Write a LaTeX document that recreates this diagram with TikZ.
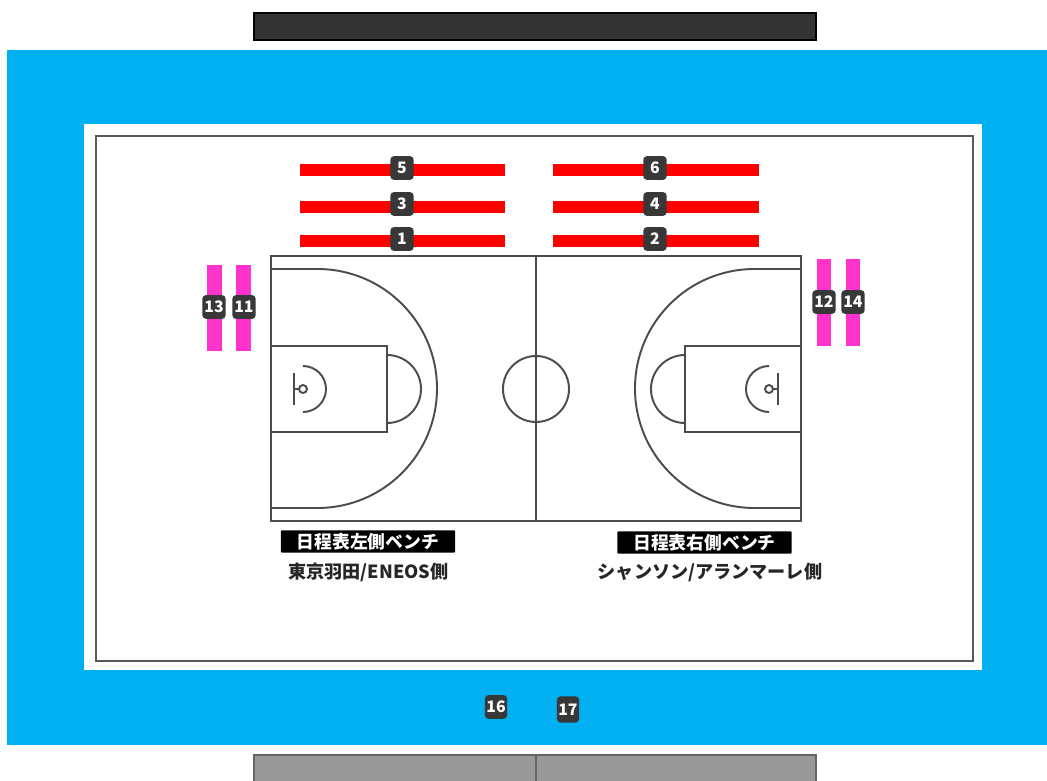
\documentclass[tikz,border=0pt]{standalone}
\usepackage{fontspec}
\setmainfont{Noto Sans CJK JP}
\usepackage{tikz}

\begin{document}
\begin{tikzpicture}
	[%
	x=0.01cm, y=-0.01cm,%
	seatnum/.style ={rectangle, rounded corners=0.9pt, fill=black!78, text=white, inner sep=0pt, minimum width=0.23cm, minimum height=0.235cm, font=\fontsize{4.5pt}{5pt}\selectfont\bfseries},%
	benchtag/.style={rectangle, rounded corners=0.2pt, fill=black, text=white, inner sep=0pt, minimum width=1.74cm, minimum height=0.22cm, font=\fontsize{5.05pt}{6pt}\selectfont\bfseries},%
	teamname/.style={inner sep=0pt, text=black!85, font=\fontsize{5.15pt}{6pt}\selectfont\bfseries},%
	courtline/.style={draw=black!70, line width=0.55pt},%
	]
	\definecolor{floorblue}{HTML}{00B0F0}
	\definecolor{seatpink}{HTML}{FF33CC}

	\useasboundingbox (0,0) rectangle (1047,781);

	% floor
	\fill [floorblue] (7,50) rectangle (1047,745);
	\fill [white] (84,124) rectangle (982,670);
	\draw [draw=black!65, line width=0.7pt] (96,136) rectangle (973,661);

	% stands
	\draw [fill=black!80, draw=black, line width=0.6pt] (254,13) rectangle (816,40);
	\draw [fill=black!40, draw=black!60, line width=0.6pt] (254,755) rectangle (816,790);
	\draw [draw=black!60, line width=0.7pt] (536,755) -- (536,781);

	% court
	\draw [courtline] (271,256) rectangle (801,521);
	\draw [courtline] (536,256) -- (536,521);
	\draw [courtline] (536,389) circle [radius=33];
	\foreach \mir/\off in {1/0,-1/1072} {
		\begin{scope}[shift={(\off,0)}, xscale=\mir]
			\draw [courtline] (271,269) -- (317.5,269) arc [start angle=-90, end angle=90, radius=119.5] -- (271,508);
			\draw [courtline] (271,346) -- (387,346) -- (387,432) -- (271,432);
			\draw [courtline] (387,355) arc [start angle=-90, end angle=90, radius=34];
			\draw [courtline] (303,366) arc [start angle=-90, end angle=90, radius=23];
			\draw [courtline] (294,373) -- (294,405);
			\draw [courtline] (294,389) -- (299,389);
			\draw [courtline] (303,389) circle [radius=4];
		\end{scope}
	}

	% seats
	\foreach \i in {164,201,235} {
		\fill [red] (300,\i) rectangle (505,\i+11.5);
		\fill [red] (553,\i) rectangle (759,\i+11.5);
	}
	\foreach \i in {207,236} \fill [seatpink] (\i,265) rectangle (\i+15.5,351);
	\foreach \i in {817,846} \fill [seatpink] (\i,259) rectangle (\i+14.5,346);

	% numbers
	\foreach \n/\i/\j in {5/402/168,3/402/204,1/402/239,6/655/168,4/655/204,2/655/239,13/214/307,11/244/307,12/824/302,14/853/302}%
		\node (seat\n) at (\i,\j) [seatnum] {\n};
	\node (seat16) at (496,707) [seatnum, minimum width=0.22cm] {16};
	\node (seat17) at (568,709.5) [seatnum, minimum width=0.22cm, minimum height=0.26cm] {17};

	% benches
	\node (benchleft) at (368,541.5) [benchtag] {日程表左側ベンチ};
	\node (benchright) at (704.5,542.5) [benchtag] {日程表右側ベンチ};
	\node (teamleft) at (368.5,572) [teamname] {東京羽田/ENEOS側};
	\node (teamright) at (710,572) [teamname] {シャンソン/アランマーレ側};

\end{tikzpicture}
\end{document}
